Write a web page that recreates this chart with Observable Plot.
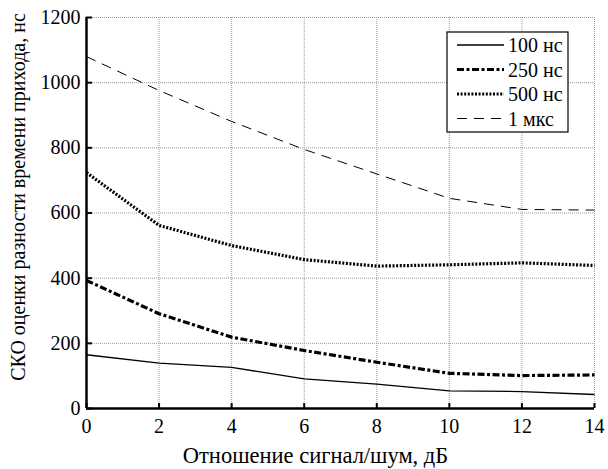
<!DOCTYPE html>
<html>
<head>
<meta charset="utf-8">
<script src="https://cdn.jsdelivr.net/npm/d3@7"></script>
<script src="https://cdn.jsdelivr.net/npm/@observablehq/plot@0.6"></script>
<style>
  html, body { margin: 0; padding: 0; background: #fff; }
  #chart { width: 608px; height: 469px; }
  #chart svg text { font-family: "Liberation Serif", "Times New Roman", serif !important; }
</style>
</head>
<body>
<div id="chart"></div>
<script>
// Signal-to-noise ratio, dB
const snr = [0, 2, 4, 6, 8, 10, 12, 14];

// RMS error of the time-difference-of-arrival estimate, ns, per pulse duration
const ns100 = [165, 139, 126, 91, 75, 54, 52, 43];
const ns250 = [393, 291, 219, 178, 142, 108, 101, 103];
const ns500 = [724, 562, 500, 457, 437, 441, 447, 439];
const us1 = [1080, 976, 881, 795, 720, 645, 611, 609];

const seriesNames = ["100 нс", "250 нс", "500 нс", "1 мкс"];
const xTicks = [0, 2, 4, 6, 8, 10, 12, 14];
const yTicks = [0, 200, 400, 600, 800, 1000, 1200];

const xTitle = "Отношение сигнал/шум, дБ";
const yTitle = "СКО оценки разности времени прихода, нс";

// Line styles for each series (same order as seriesNames)
const styles = [
  {strokeWidth: 1.3, strokeDasharray: null},
  {strokeWidth: 3.2, strokeDasharray: "7,2.5,3,2.5"},
  {strokeWidth: 3.2, strokeDasharray: "2,1.6"},
  {strokeWidth: 1, strokeDasharray: "10,7"}
];
const seriesValues = [ns100, ns250, ns500, us1];

const W = 608, H = 469;
const margin = {top: 17, right: 14, bottom: 61, left: 86};
const frameW = W - margin.left - margin.right;
const frameH = H - margin.top - margin.bottom;

const rows = seriesValues.map(vals => snr.map((x, i) => ({x, y: vals[i]})));

const plot = Plot.plot({
  width: W,
  height: H,
  marginTop: margin.top,
  marginRight: margin.right,
  marginBottom: margin.bottom,
  marginLeft: margin.left,
  style: {fontSize: "20px", color: "#000", background: "#fff"},
  x: {domain: [0, 14]},
  y: {domain: [0, 1200]},
  marks: [
    Plot.gridX(xTicks, {stroke: "#9a9a9a", strokeOpacity: 1, strokeDasharray: "1,1"}),
    Plot.gridY(yTicks, {stroke: "#9a9a9a", strokeOpacity: 1, strokeDasharray: "1,1"}),
    // inward tick marks
    Plot.tickX(xTicks, {x: d => d, stroke: "#000", strokeWidth: 2, insetTop: frameH - 5}),
    Plot.tickY(yTicks, {y: d => d, stroke: "#000", strokeWidth: 2, insetRight: frameW - 6}),
    Plot.axisX(xTicks, {tickSize: 0, tickPadding: 10, fontSize: 20, label: null, tickFormat: d => String(d)}),
    Plot.axisY(yTicks, {tickSize: 0, tickPadding: 6, fontSize: 20, label: null, tickFormat: d => String(d)}),
    ...rows.map((data, i) => Plot.line(data, {
      x: "x", y: "y", stroke: "#000",
      strokeWidth: styles[i].strokeWidth,
      strokeDasharray: styles[i].strokeDasharray,
      strokeLinecap: "butt"
    })),
    Plot.ruleX([0], {stroke: "#000", strokeWidth: 2.5}),
    Plot.ruleY([0], {stroke: "#000", strokeWidth: 2.5}),
    Plot.text([xTitle], {frameAnchor: "bottom", dy: 47, dx: -25, fontSize: 22.5, textAnchor: "middle", lineAnchor: "middle"}),
    Plot.text([yTitle], {frameAnchor: "left", rotate: -90, dx: -68, dy: -16, fontSize: 20, textAnchor: "middle", lineAnchor: "middle"})
  ]
});

// Legend box in the upper right of the plot area
const svg = d3.select(plot);
const lg = svg.append("g").attr("transform", "translate(447,32)");
lg.append("rect")
  .attr("width", 121).attr("height", 100)
  .attr("fill", "#fff").attr("stroke", "#000").attr("stroke-width", 1.2);
seriesNames.forEach((name, i) => {
  const cy = 13 + i * 24.5;
  lg.append("line")
    .attr("x1", 10).attr("x2", 57).attr("y1", cy).attr("y2", cy)
    .attr("stroke", "#000")
    .attr("stroke-width", styles[i].strokeWidth)
    .attr("stroke-dasharray", styles[i].strokeDasharray);
  lg.append("text")
    .attr("x", 61).attr("y", cy).attr("dy", "0.35em")
    .attr("text-anchor", "start")
    .attr("font-size", 20).attr("fill", "#000")
    .text(name);
});

document.getElementById("chart").append(plot);
</script>
</body>
</html>
